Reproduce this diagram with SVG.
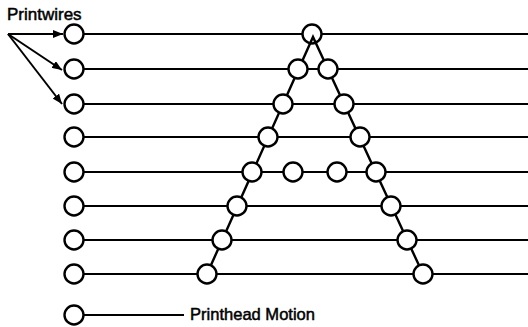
<svg xmlns="http://www.w3.org/2000/svg" width="528" height="327" viewBox="0 0 528 327">
<style>
.n{fill:#fff;stroke:#000;stroke-width:2.4}
.w{stroke:#000;stroke-width:2;fill:none}
.d{stroke:#000;stroke-width:2.4;fill:none;stroke-linejoin:miter}
.a{stroke:#000;stroke-width:2;fill:none}
.t{font-family:"Liberation Sans",Arial,sans-serif;font-size:17px;fill:#000;stroke:#000;stroke-width:0.5}
</style>
<defs>
<marker id="ah" markerUnits="userSpaceOnUse" markerWidth="10" markerHeight="8" refX="10" refY="4" orient="auto">
<path d="M0,0 L10,4 L0,8 z" fill="#000"/>
</marker>
</defs>
<rect width="528" height="327" fill="#fff"/>
<g id="dot-top"><circle class="n" cx="312" cy="34" r="9.5"/></g>
<g id="connectors">
<line class="w" x1="83" y1="34" x2="302" y2="34"/>
<line class="w" x1="322" y1="34" x2="528" y2="34"/>
<line class="w" x1="83" y1="69" x2="528" y2="69"/>
<line class="w" x1="83" y1="104" x2="528" y2="104"/>
<line class="w" x1="83" y1="137" x2="528" y2="137"/>
<line class="w" x1="83" y1="172" x2="528" y2="172"/>
<line class="w" x1="83" y1="206" x2="528" y2="206"/>
<line class="w" x1="83" y1="240" x2="528" y2="240"/>
<line class="w" x1="83" y1="274" x2="528" y2="274"/>
<line class="w" x1="83" y1="315" x2="184" y2="315"/>
<polyline class="d" points="207,274 313,37 423,274"/>
<line class="a" x1="8" y1="34" x2="63" y2="34" marker-end="url(#ah)"/>
<line class="a" x1="8" y1="34" x2="62" y2="70" marker-end="url(#ah)"/>
<line class="a" x1="8" y1="34" x2="62" y2="104" marker-end="url(#ah)"/>
</g>
<g id="wire1"><circle class="n" cx="74" cy="34" r="9.5"/></g>
<g id="wire2"><circle class="n" cx="74" cy="69" r="9.5"/></g>
<g id="wire3"><circle class="n" cx="74" cy="104" r="9.5"/></g>
<g id="wire4"><circle class="n" cx="74" cy="137" r="9.5"/></g>
<g id="wire5"><circle class="n" cx="74" cy="172" r="9.5"/></g>
<g id="wire6"><circle class="n" cx="74" cy="206" r="9.5"/></g>
<g id="wire7"><circle class="n" cx="74" cy="240" r="9.5"/></g>
<g id="wire8"><circle class="n" cx="74" cy="274" r="9.5"/></g>
<g id="legend-dot"><circle class="n" cx="74" cy="315" r="9.5"/></g>
<g id="dot-2l"><circle class="n" cx="298" cy="69" r="9.5"/></g>
<g id="dot-2r"><circle class="n" cx="328" cy="69" r="9.5"/></g>
<g id="dot-3l"><circle class="n" cx="283" cy="104" r="9.5"/></g>
<g id="dot-3r"><circle class="n" cx="344" cy="104" r="9.5"/></g>
<g id="dot-4l"><circle class="n" cx="268" cy="137" r="9.5"/></g>
<g id="dot-4r"><circle class="n" cx="360" cy="137" r="9.5"/></g>
<g id="dot-5l"><circle class="n" cx="252" cy="172" r="9.5"/></g>
<g id="dot-5a"><circle class="n" cx="293" cy="172" r="9.5"/></g>
<g id="dot-5b"><circle class="n" cx="337" cy="172" r="9.5"/></g>
<g id="dot-5r"><circle class="n" cx="376" cy="172" r="9.5"/></g>
<g id="dot-6l"><circle class="n" cx="237" cy="206" r="9.5"/></g>
<g id="dot-6r"><circle class="n" cx="391" cy="206" r="9.5"/></g>
<g id="dot-7l"><circle class="n" cx="222" cy="240" r="9.5"/></g>
<g id="dot-7r"><circle class="n" cx="407" cy="240" r="9.5"/></g>
<g id="dot-8l"><circle class="n" cx="207" cy="274" r="9.5"/></g>
<g id="dot-8r"><circle class="n" cx="423" cy="274" r="9.5"/></g>
<text class="t" x="7" y="19.5">Printwires</text>
<text class="t" x="190" y="320" textLength="125" lengthAdjust="spacingAndGlyphs">Printhead Motion</text>
</svg>
